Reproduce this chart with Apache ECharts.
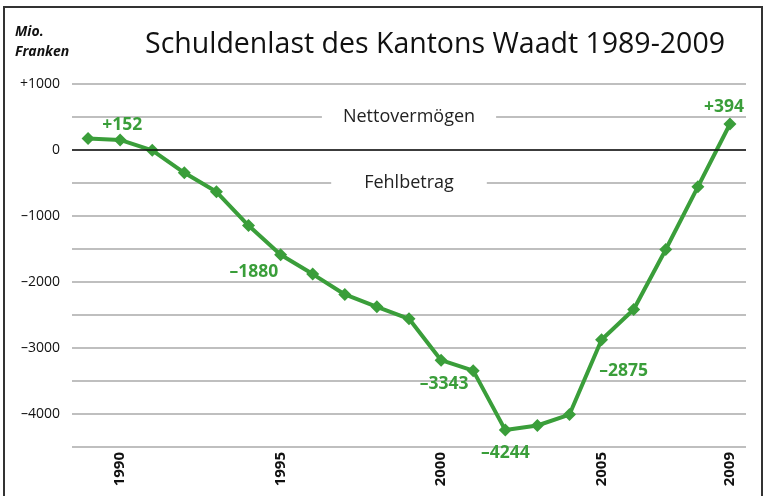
<!DOCTYPE html>
<html>
<head>
<meta charset="utf-8">
<script src="https://cdn.jsdelivr.net/npm/echarts@6/dist/echarts.min.js"></script>
<style>html,body{margin:0;padding:0;background:#fff;}#c{width:767px;height:496px;}</style>
</head>
<body>
<div id="c"></div>
<script>
const years = ['1989','1990','1991','1992','1993','1994','1995','1996','1997','1998','1999','2000','2001','2002','2003','2004','2005','2006','2007','2008','2009'];
const values = [175, 152, -5, -345, -633, -1144, -1588, -1880, -2189, -2376, -2558, -3185, -3343, -4244, -4174, -4008, -2875, -2417, -1508, -558, 394];
const shownYears = ['1990','1995','2000','2005','2009'];
const labelled = {'1990':'+152','1996':'\u20131880','2001':'\u20133343','2002':'\u20134244','2005':'\u20132875','2009':'+394'};
const yMin = -4500, yMax = 1000, yStep = 500;

const green = '#3a9e3a';
const font = 'Open Sans';
const labelPos = {
  '1990': {position:'top', distance:-1, offset:[2,0]},
  '1996': {position:'left', distance:28, offset:[0,-2]},
  '2001': {position:'bottom', distance:2, offset:[-29,-4]},
  '2002': {position:'bottom', distance:7, offset:[0,0]},
  '2005': {position:'bottom', distance:16, offset:[22,0]},
  '2009': {position:'top', distance:1, offset:[-6,0]}
};
const seriesData = values.map((v,i) => {
  const y = years[i];
  if (labelled[y]) {
    return {value: v, label: Object.assign({show:true, formatter: labelled[y]}, labelPos[y])};
  }
  return v;
});

const chart = echarts.init(document.getElementById('c'), null, {renderer:'canvas'});
chart.setOption({
  animation: false,
  textStyle: {fontFamily: font},
  graphic: [
    {type:'rect', shape:{x:4, y:7, width:758, height:500}, style:{fill:'none', stroke:'#333', lineWidth:2}},
    {type:'text', left:15, top:22, style:{text:'Mio.\nFranken', font:'italic bold 14px "Open Sans"', fill:'#111', lineHeight:20}},
    {type:'text', left:145, top:30, style:{text:'Schuldenlast des Kantons Waadt 1989-2009', font:'28.5px "Open Sans"', fill:'#111'}}
  ],
  grid: {left:72, right:21, top:84, bottom:49, containLabel:false},
  xAxis: {
    type:'category', data: years, boundaryGap: true,
    axisLine:{show:false}, axisTick:{show:false},
    axisLabel:{rotate:90, margin:5, fontSize:15, fontWeight:'bold', color:'#111',
      interval: (idx, val) => shownYears.includes(val)}
  },
  yAxis: {
    type:'value', min:yMin, max:yMax, interval:yStep,
    axisLine:{show:false}, axisTick:{show:false},
    axisLabel:{margin:12, fontSize:14, color:'#111',
      formatter: v => (v % 1000 !== 0) ? '' : (v > 0 ? '+' + v : (v < 0 ? '\u2013' + Math.abs(v) : '0'))},
    splitLine:{lineStyle:{color:'#aaaaaa', width:1.5}}
  },
  series: [{
    type:'line', data: seriesData,
    symbol:'diamond', symbolSize:13,
    lineStyle:{color:green, width:4},
    itemStyle:{color:green},
    label:{show:false, color:green, fontSize:17.5, fontWeight:'bold', fontFamily:font},
    markLine:{silent:true, symbol:'none', label:{show:false},
      lineStyle:{color:'#111', width:1.5, type:'solid'},
      data:[{yAxis:0}]},
    markPoint:{silent:true, symbol:'rect', symbolSize:1, itemStyle:{color:'rgba(0,0,0,0)'},
      data:[
        {coord:['1999', 500], label:{show:true, position:'inside', formatter:'Nettovermögen', color:'#222', fontSize:18, backgroundColor:'#fff', padding:[2,21]}},
        {coord:['1999', -500], label:{show:true, position:'inside', formatter:'Fehlbetrag', color:'#222', fontSize:18, backgroundColor:'#fff', padding:[2,33]}}
      ]}
  }]
});
</script>
</body>
</html>
